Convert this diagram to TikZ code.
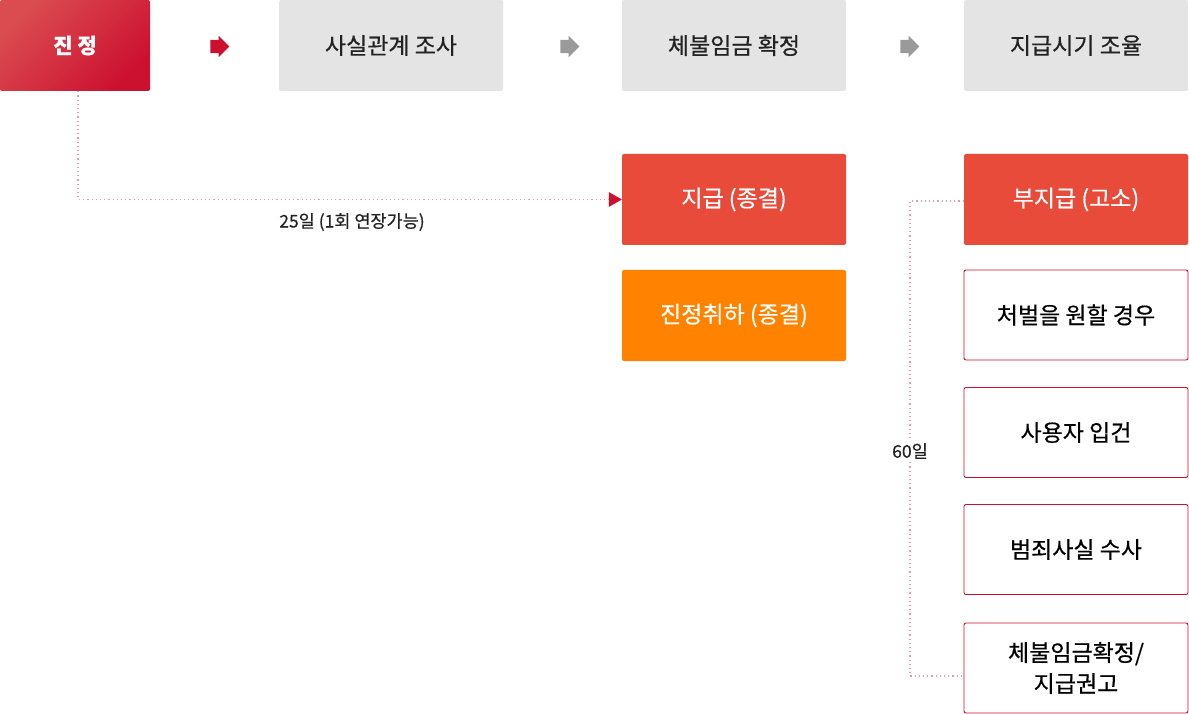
\documentclass[tikz,border=0pt]{standalone}
\usepackage{fontspec}
\setmainfont{Noto Sans CJK KR}[FakeBold=0.5]
\usetikzlibrary{arrows.meta,shapes.arrows,positioning}
\definecolor{jred}{HTML}{CC1030}
\definecolor{jredlight}{HTML}{DA4C50}
\definecolor{boxred}{HTML}{E84B3A}
\definecolor{boxorange}{HTML}{FF8200}
\definecolor{boxgray}{HTML}{E4E4E4}
\definecolor{dotpink}{HTML}{E89AAE}
\definecolor{txt}{HTML}{222222}
\definecolor{arrgray}{HTML}{9A9A9A}
\begin{document}
\begin{tikzpicture}[x=1pt,y=-1pt,
  base/.style={minimum width=224pt,minimum height=91pt,rounded corners=2pt,inner sep=0pt,font=\fontsize{23}{31}\selectfont,align=center},
  graybox/.style={base,fill=boxgray,text=txt},
  redbox/.style={base,fill=boxred,text=white},
  orangebox/.style={base,fill=boxorange,text=white},
  linebox/.style={base,draw=jred,line width=0.9pt,fill=white,text=black,minimum height=90pt},
  flowarrow/.style={single arrow,single arrow head extend=4pt,minimum width=21pt,minimum height=19pt,inner xsep=0pt,inner ysep=6.5pt,fill=#1,draw=none},
  dotline/.style={draw=dotpink,line width=1.3pt,dash pattern=on 1.2pt off 3pt},
  lbl/.style={text=txt,font=\fontsize{17.5}{21}\selectfont,inner sep=1pt}
]
\useasboundingbox (0,0) rectangle (1189,714);
% top row
\node[base,minimum width=150pt,top color=jredlight,bottom color=jred,shading angle=45,text=white,font=\bfseries\fontsize{21}{26}\selectfont] (jin) at (75,45.5) {진 정};
\node[graybox] (fact) at (391,45.5) {사실관계 조사};
\node[graybox] (conf) at (734,45.5) {체불임금 확정};
\node[graybox] (time) at (1076,45.5) {지급시기 조율};
\node[flowarrow=jred] (a1) at (216.5,46.5) {};
\node[flowarrow=arrgray] (a2) at (566.5,46.5) {};
\node[flowarrow=arrgray] (a3) at (906.5,46.5) {};
% middle column
\node[redbox] (pay) at (734,199.5) {지급 (종결)};
\node[orangebox] (withdraw) at (734,315.5) {진정취하 (종결)};
% right column
\node[redbox] (nopay) at (1076,199.5) {부지급 (고소)};
\node[linebox] (punish) at (1076,315) {처벌을 원할 경우};
\node[linebox] (book) at (1076,432.5) {사용자 입건};
\node[linebox] (inv) at (1076,549.5) {범죄사실 수사};
\node[linebox] (final) at (1076,668) {체불임금확정/\\지급권고};
% connectors
\draw[dotline,-{Triangle[width=15pt,length=13pt,color=jred,fill=jred,line width=0pt]}] ([xshift=3pt]jin.south) |- (pay.west);
\node[lbl] (l25) at (352,222) {25일 (1회 연장가능)};
\coordinate (bend) at (910,201);
\draw[dotline] (nopay.west |- bend) -- (bend) |- ([yshift=-8pt]final.west);
\node[lbl,fill=white,inner sep=3pt] (l60) at (910,451) {60일};
\end{tikzpicture}
\end{document}
